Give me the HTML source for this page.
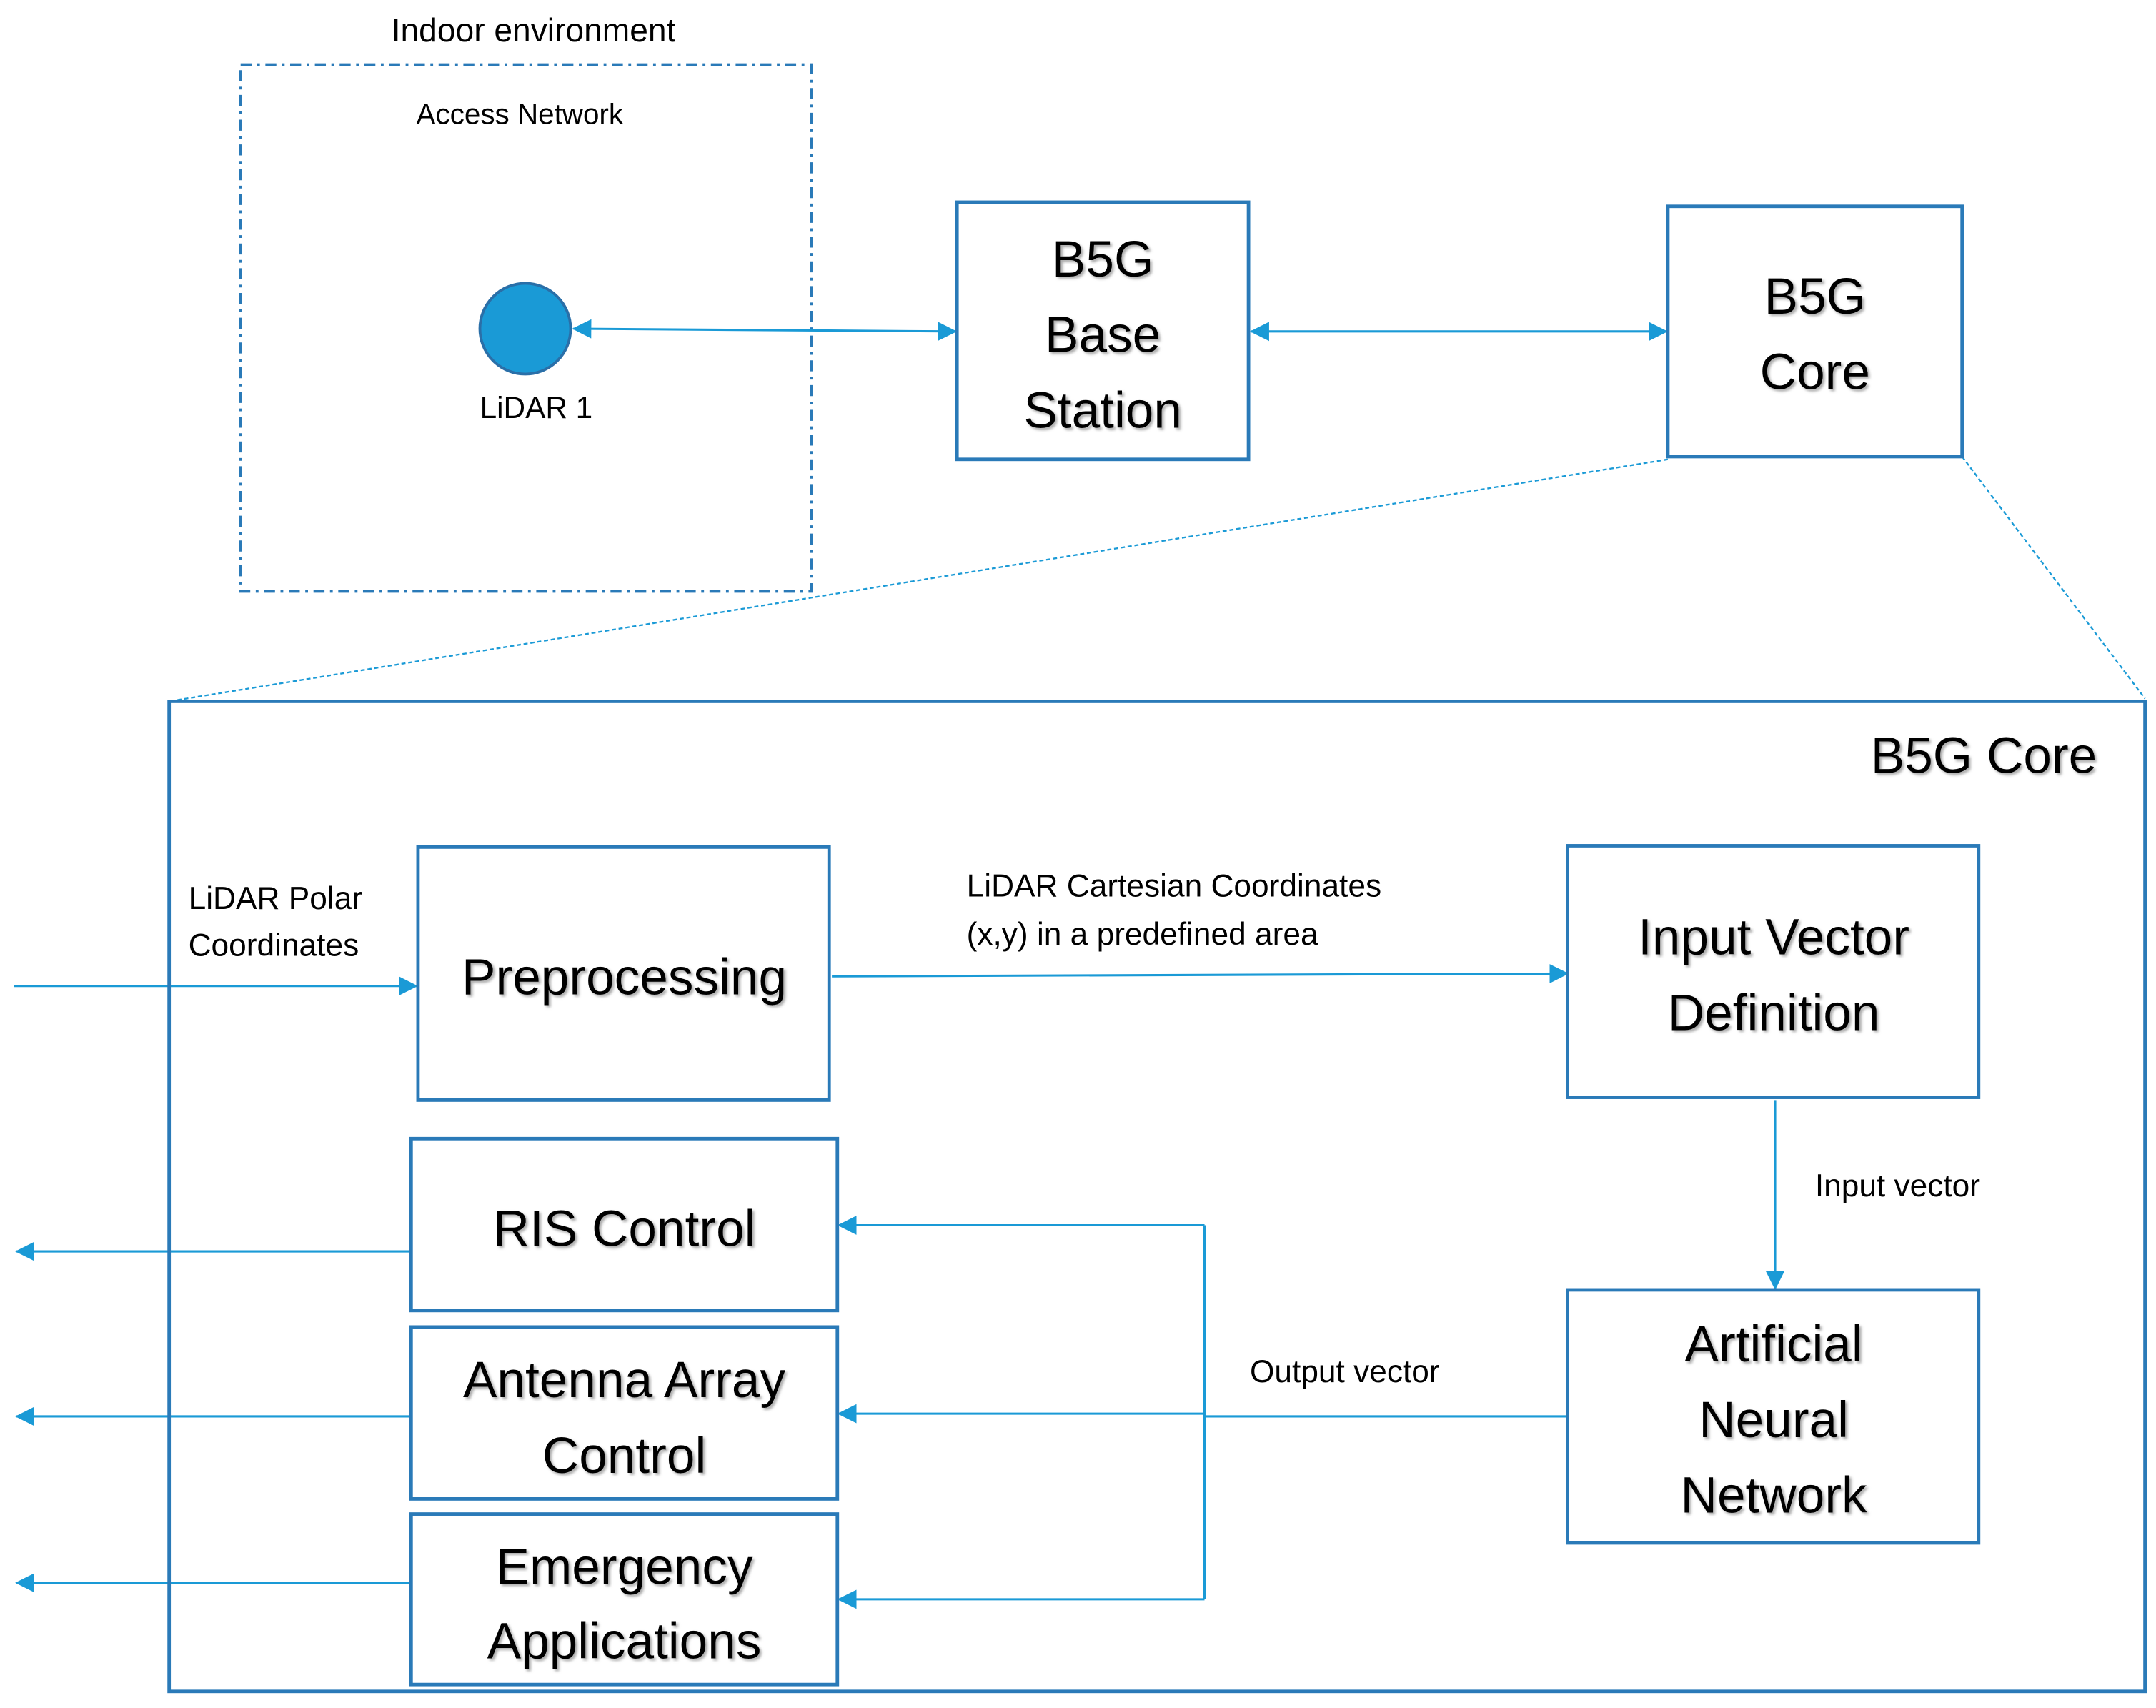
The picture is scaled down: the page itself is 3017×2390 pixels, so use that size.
<!DOCTYPE html>
<html><head><meta charset="utf-8"><style>html,body{margin:0;padding:0;background:#fff}svg{display:block}</style></head>
<body>
<svg width="3017" height="2390" viewBox="0 0 1568 1242" xmlns="http://www.w3.org/2000/svg" font-family="Liberation Sans, sans-serif">
<defs>
<marker id="a" markerWidth="14" markerHeight="14" refX="13" refY="7" orient="auto" markerUnits="userSpaceOnUse"><path d="M0,0 L14,7 L0,14 z" fill="#1a9ad6"/></marker>
<marker id="b" markerWidth="14" markerHeight="14" refX="1" refY="7" orient="auto" markerUnits="userSpaceOnUse"><path d="M14,0 L0,7 L14,14 z" fill="#1a9ad6"/></marker>
<filter id="s"><feDropShadow dx="1.5" dy="1.5" stdDeviation="1" flood-color="#888" flood-opacity="0.7"/></filter>
</defs>
<g fill="#000">
<text x="388" y="30" font-size="24" text-anchor="middle">Indoor environment</text>
<text x="378" y="90" font-size="21" text-anchor="middle">Access Network</text>
<text x="390" y="304" font-size="22" text-anchor="middle">LiDAR 1</text>
</g>
<rect x="175" y="47" width="415" height="383" fill="none" stroke="#2a7ab8" stroke-width="2" stroke-dasharray="8,4,2,4"/>
<circle cx="382" cy="239" r="33" fill="#1a9ad6" stroke="#2a6fa8" stroke-width="2"/>
<g stroke="#1a9ad6" stroke-width="1.6" fill="none">
<line x1="417" y1="239" x2="695" y2="241" marker-start="url(#b)" marker-end="url(#a)"/>
<line x1="910" y1="241" x2="1212" y2="241" marker-start="url(#b)" marker-end="url(#a)"/>
<line x1="10" y1="717" x2="303" y2="717" marker-end="url(#a)"/>
<line x1="605" y1="710" x2="1140" y2="708" marker-end="url(#a)"/>
<line x1="1291" y1="800" x2="1291" y2="937" marker-end="url(#a)"/>
<polyline points="1140,1030 876,1030"/>
<line x1="876" y1="891" x2="876" y2="1163"/>
<line x1="876" y1="891" x2="610" y2="891" marker-end="url(#a)"/>
<line x1="876" y1="1028" x2="610" y2="1028" marker-end="url(#a)"/>
<line x1="876" y1="1163" x2="610" y2="1163" marker-end="url(#a)"/>
<line x1="299" y1="910" x2="12" y2="910" marker-end="url(#a)"/>
<line x1="299" y1="1030" x2="12" y2="1030" marker-end="url(#a)"/>
<line x1="299" y1="1151" x2="12" y2="1151" marker-end="url(#a)"/>
</g>
<g stroke="#1a9ad6" stroke-width="1.2" stroke-dasharray="3,2" fill="none">
<line x1="1213" y1="334" x2="123" y2="510"/>
<line x1="1427" y1="332" x2="1560" y2="508"/>
</g>
<g fill="none" stroke="#2a7ab8" stroke-width="2.5">
<rect x="696" y="147" width="212" height="187"/>
<rect x="1213" y="150" width="214" height="182"/>
<rect x="123" y="510" width="1437" height="720"/>
<rect x="304" y="616" width="299" height="184"/>
<rect x="1140" y="615" width="299" height="183"/>
<rect x="1140" y="938" width="299" height="184"/>
<rect x="299" y="828" width="310" height="125"/>
<rect x="299" y="965" width="310" height="125"/>
<rect x="299" y="1101" width="310" height="124"/>
</g>
<g fill="#000" font-size="23">
<text x="137" y="661">LiDAR Polar</text>
<text x="137" y="695">Coordinates</text>
<text x="703" y="652">LiDAR Cartesian Coordinates</text>
<text x="703" y="687">(x,y) in a predefined area</text>
<text x="1320" y="870">Input vector</text>
<text x="909" y="1005">Output vector</text>
</g>
<g fill="#000" font-size="37" text-anchor="middle" filter="url(#s)">
<text x="802" y="201">B5G</text>
<text x="802" y="256">Base</text>
<text x="802" y="311">Station</text>
<text x="1320" y="228">B5G</text>
<text x="1320" y="283">Core</text>
<text x="1525" y="562" text-anchor="end">B5G Core</text>
<text x="454" y="723">Preprocessing</text>
<text x="1290" y="694">Input Vector</text>
<text x="1290" y="749">Definition</text>
<text x="1290" y="990">Artificial</text>
<text x="1290" y="1045">Neural</text>
<text x="1290" y="1100">Network</text>
<text x="454" y="906">RIS Control</text>
<text x="454" y="1016">Antenna Array</text>
<text x="454" y="1071">Control</text>
<text x="454" y="1152">Emergency</text>
<text x="454" y="1206">Applications</text>
</g>
</svg>
</body></html>
